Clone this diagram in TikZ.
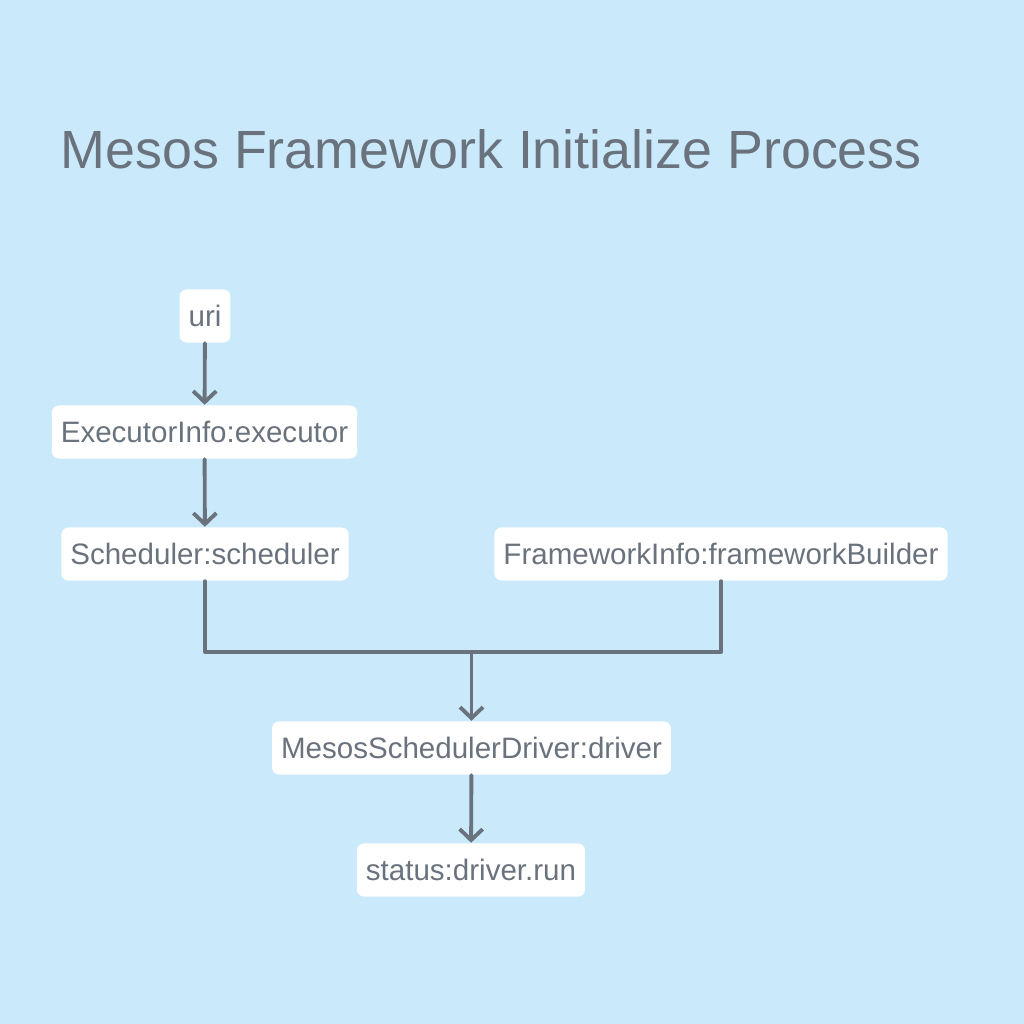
\documentclass[tikz,border=0pt]{standalone}
\usepackage{fontspec}
\setmainfont{Liberation Sans}
\usetikzlibrary{arrows.meta}
\definecolor{bgblue}{HTML}{CAEAFB}
\definecolor{inkgray}{HTML}{6A737D}
\begin{document}
\begin{tikzpicture}[x=0.01cm,y=-0.01cm,line join=round,line cap=round,
	box/.style={fill=white,rounded corners=2pt,inner xsep=0.09cm,minimum height=0.53cm,text=inkgray,font=\fontsize{8.4}{10}\selectfont},
	link/.style={draw=inkgray,line width=1.1pt},
	>={Straight Barb[length=1.1mm,width=2.3mm,line width=1.1pt]}]
	\fill[bgblue] (0,0) rectangle (1024,1024);
	\node[anchor=base west,text=inkgray,font=\fontsize{15.3}{18}\selectfont,inner sep=0pt] (title) at (60,168) {Mesos Framework Initialize Process};
	\path
	(205,316) node[box] (uri) {uri}
	(204.5,432) node[box] (exec) {ExecutorInfo:executor}
	(205,554) node[box] (sched) {Scheduler:scheduler}
	(721,554) node[box] (fw) {FrameworkInfo:frameworkBuilder}
	(471.5,748) node[box] (driver) {MesosSchedulerDriver:driver}
	(471,870) node[box] (status) {status:driver.run}
	;
	\coordinate (join) at (471.5,652);
	\draw[link,->] (uri) -- (exec);
	\draw[link,->] (exec) -- (sched);
	\draw[link] (sched.south) |- (join) -| (fw.south);
	\draw[link,->] (join) -- (driver);
	\draw[link,->] (driver) -- (status);
\end{tikzpicture}
\end{document}
